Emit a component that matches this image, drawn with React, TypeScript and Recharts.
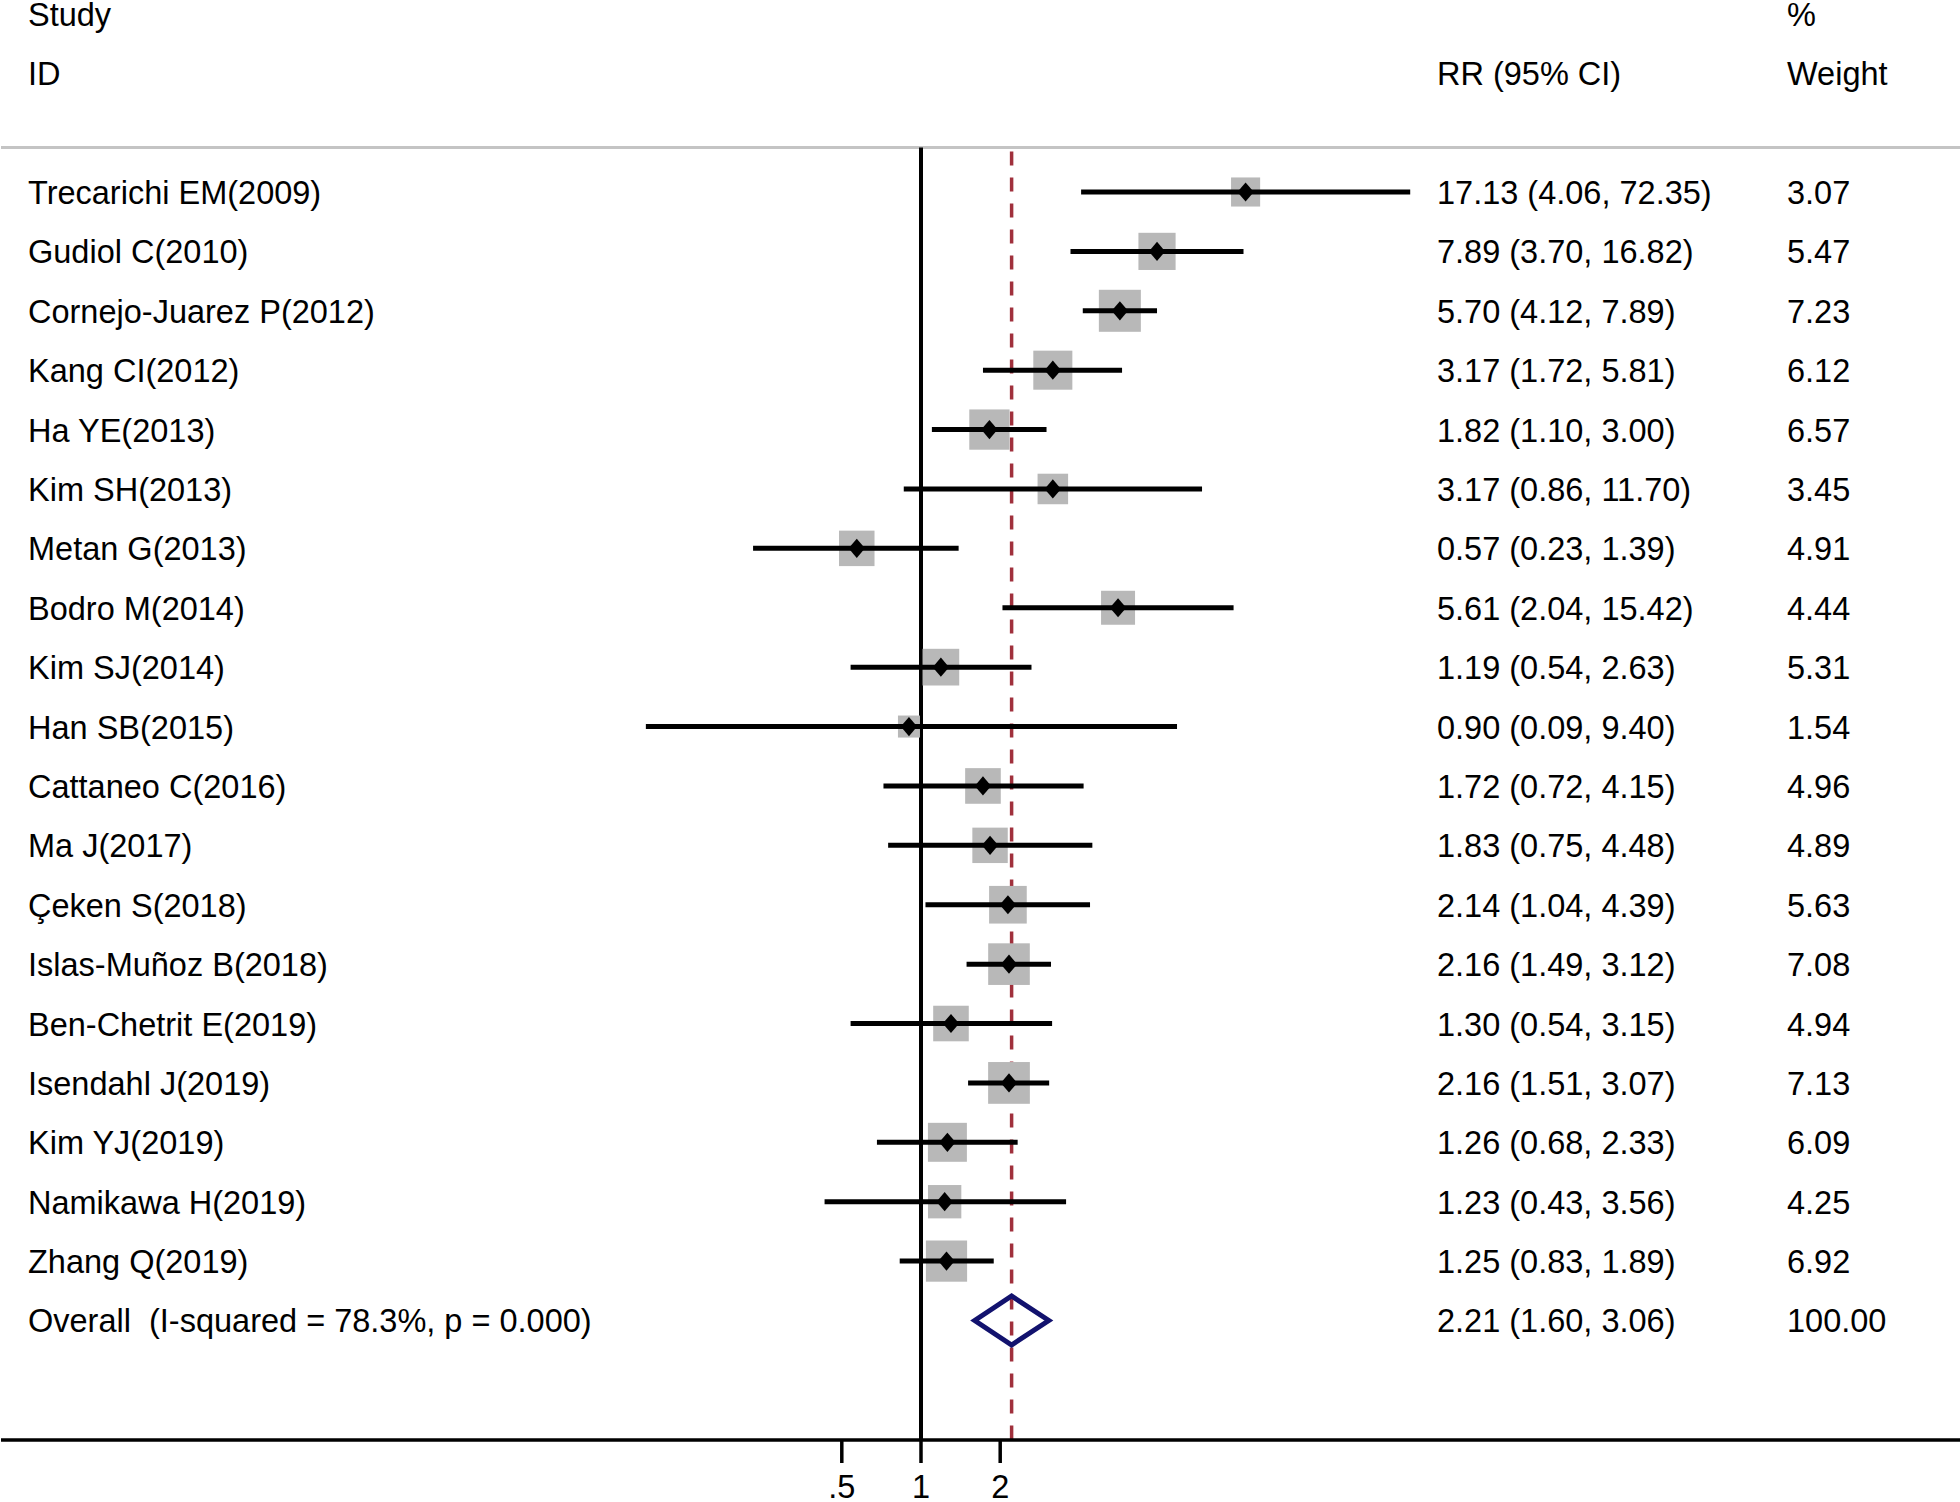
import React from 'react';
import {
  ScatterChart,
  Scatter,
  XAxis,
  YAxis,
  ReferenceLine,
} from 'recharts';

// ---------- data ----------
const studies = [
  'Trecarichi EM(2009)',
  'Gudiol C(2010)',
  'Cornejo-Juarez P(2012)',
  'Kang CI(2012)',
  'Ha YE(2013)',
  'Kim SH(2013)',
  'Metan G(2013)',
  'Bodro M(2014)',
  'Kim SJ(2014)',
  'Han SB(2015)',
  'Cattaneo C(2016)',
  'Ma J(2017)',
  'Çeken S(2018)',
  'Islas-Muñoz B(2018)',
  'Ben-Chetrit E(2019)',
  'Isendahl J(2019)',
  'Kim YJ(2019)',
  'Namikawa H(2019)',
  'Zhang Q(2019)',
];
const rr = [17.13, 7.89, 5.7, 3.17, 1.82, 3.17, 0.57, 5.61, 1.19, 0.9, 1.72, 1.83, 2.14, 2.16, 1.3, 2.16, 1.26, 1.23, 1.25];
const ciLow = [4.06, 3.7, 4.12, 1.72, 1.1, 0.86, 0.23, 2.04, 0.54, 0.09, 0.72, 0.75, 1.04, 1.49, 0.54, 1.51, 0.68, 0.43, 0.83];
const ciHigh = [72.35, 16.82, 7.89, 5.81, 3.0, 11.7, 1.39, 15.42, 2.63, 9.4, 4.15, 4.48, 4.39, 3.12, 3.15, 3.07, 2.33, 3.56, 1.89];
const weights = [3.07, 5.47, 7.23, 6.12, 6.57, 3.45, 4.91, 4.44, 5.31, 1.54, 4.96, 4.89, 5.63, 7.08, 4.94, 7.13, 6.09, 4.25, 6.92];

const overallLabel = 'Overall  (I-squared = 78.3%, p = 0.000)';
const overallRR = 2.21;
const overallLow = 1.6;
const overallHigh = 3.06;
const overallWeight = 100.0;

const xTicks = [0.5, 1, 2];
const xTickLabels = ['.5', '1', '2'];

const headerRow1 = { study: 'Study', weight: '%' };
const headerRow2 = { study: 'ID', ci: 'RR (95% CI)', weight: 'Weight' };

// ---------- layout / style constants ----------
const W = 1960;
const H = 1502;
const Y_AXIS_W = 1;
const X_MIN = Math.pow(2, -(921 - Y_AXIS_W) / 79.2);
const X_MAX = Math.pow(2, (W - 921) / 79.2);
const Y_MIN = -3.2326;
const Y_MAX = 21.012;
const OVERALL_ROW = studies.length;
const HEADER_LINE_ROW = -0.75;
const DASH_START_ROW = -0.68;
const DIAMOND_HALF = 0.4125;
const FONT = "'Liberation Sans', Arial, Helvetica, sans-serif";
const FS = 32.5;
const COL_STUDY = 28;
const COL_CI = 1437;
const COL_W = 1787;

// ---------- derived tables ----------
const rows = studies.map((s, i) => ({ x: rr[i], y: i, w: weights[i] }));
const ciSegments = studies.map((s, i) => [
  { x: ciLow[i], y: i },
  { x: ciHigh[i], y: i },
]);

const overallPolygon = [
  { x: overallLow, y: OVERALL_ROW },
  { x: overallRR, y: OVERALL_ROW - DIAMOND_HALF },
  { x: overallHigh, y: OVERALL_ROW },
  { x: overallRR, y: OVERALL_ROW + DIAMOND_HALF },
  { x: overallLow, y: OVERALL_ROW },
  { x: overallRR, y: OVERALL_ROW - DIAMOND_HALF },
];

const fmtCI = (e: number, l: number, h: number) =>
  `${e.toFixed(2)} (${l.toFixed(2)}, ${h.toFixed(2)})`;

const yTicks = [-3, -2, ...studies.map((_, i) => i), OVERALL_ROW];

const textProps = {
  fontFamily: FONT,
  fontSize: FS,
  fill: '#000',
  xmlSpace: 'preserve' as any,
  style: { whiteSpace: 'pre' as const },
};

const RowTick = (props: any) => {
  const { y, payload } = props;
  const v = payload.value;
  const base = y + 12;
  let a = '';
  let b = '';
  let c = '';
  if (v === -3) {
    a = headerRow1.study;
    c = headerRow1.weight;
  } else if (v === -2) {
    a = headerRow2.study;
    b = headerRow2.ci;
    c = headerRow2.weight;
  } else if (v === OVERALL_ROW) {
    a = overallLabel;
    b = fmtCI(overallRR, overallLow, overallHigh);
    c = overallWeight.toFixed(2);
  } else if (v >= 0 && v < studies.length) {
    a = studies[v];
    b = fmtCI(rr[v], ciLow[v], ciHigh[v]);
    c = weights[v].toFixed(2);
  }
  return (
    <g>
      {a && (
        <text x={COL_STUDY} y={base} textAnchor="start" {...textProps}>
          {a}
        </text>
      )}
      {b && (
        <text x={COL_CI} y={base} textAnchor="start" {...textProps}>
          {b}
        </text>
      )}
      {c && (
        <text x={COL_W} y={base} textAnchor="start" {...textProps}>
          {c}
        </text>
      )}
    </g>
  );
};

const XTick = (props: any) => {
  const { x, y, payload } = props;
  const idx = xTicks.indexOf(payload.value);
  return (
    <text x={x} y={y + 35} textAnchor="middle" {...textProps}>
      {idx >= 0 ? xTickLabels[idx] : ''}
    </text>
  );
};

const WeightBox = (props: any) => {
  const { cx, cy, payload } = props;
  const side = 4.9 + 13.8 * Math.sqrt(payload.w);
  return <rect x={cx - side / 2} y={cy - side / 2} width={side} height={side} fill="#b8b8b8" />;
};

const PointDiamond = (props: any) => {
  const { cx, cy } = props;
  const hw = 8.2;
  const hh = 9.6;
  return (
    <polygon
      points={`${cx - hw},${cy} ${cx},${cy - hh} ${cx + hw},${cy} ${cx},${cy + hh}`}
      fill="#000"
    />
  );
};

const Empty = () => <g />;

export default function App() {
  return (
    <div style={{ position: 'absolute', left: 0, top: 0, width: W, height: H, background: '#fff' }}>
      <ScatterChart width={W} height={H} margin={{ top: 0, right: 0, bottom: 0, left: 0 }}>
        <XAxis
          type="number"
          dataKey="x"
          scale="log"
          domain={[X_MIN, X_MAX]}
          allowDataOverflow
          ticks={xTicks}
          interval={0}
          height={62}
          tickSize={23}
          tickMargin={0}
          axisLine={{ stroke: '#000', strokeWidth: 3.5 }}
          tickLine={{ stroke: '#000', strokeWidth: 3.5 }}
          tick={<XTick />}
        />
        <YAxis
          type="number"
          dataKey="y"
          domain={[Y_MIN, Y_MAX]}
          allowDataOverflow
          reversed
          width={Y_AXIS_W}
          ticks={yTicks}
          interval={0}
          axisLine={false}
          tickLine={false}
          tick={<RowTick />}
        />
        <ReferenceLine
          y={HEADER_LINE_ROW}
          stroke="#c4c4c4"
          strokeWidth={3}
          ifOverflow="visible"
        />
        <ReferenceLine
          segment={[
            { x: 1, y: HEADER_LINE_ROW },
            { x: 1, y: Y_MAX },
          ]}
          stroke="#000"
          strokeWidth={4}
          ifOverflow="visible"
        />
        <ReferenceLine
          segment={[
            { x: overallRR, y: DASH_START_ROW },
            { x: overallRR, y: Y_MAX },
          ]}
          stroke="#a0303c"
          strokeWidth={3.5}
          strokeDasharray="14 12"
          ifOverflow="visible"
        />
        <Scatter data={rows} shape={<WeightBox />} isAnimationActive={false} />
        {ciSegments.map((seg, i) => (
          <Scatter
            key={`ci-${i}`}
            data={seg}
            shape={<Empty />}
            line={{ stroke: '#000', strokeWidth: 5 }}
            lineType="joint"
            isAnimationActive={false}
          />
        ))}
        <Scatter data={rows} shape={<PointDiamond />} isAnimationActive={false} />
        <Scatter
          data={overallPolygon}
          shape={<Empty />}
          line={{ stroke: '#12126e', strokeWidth: 5, strokeLinejoin: 'miter' }}
          lineType="joint"
          isAnimationActive={false}
        />
      </ScatterChart>
    </div>
  );
}
